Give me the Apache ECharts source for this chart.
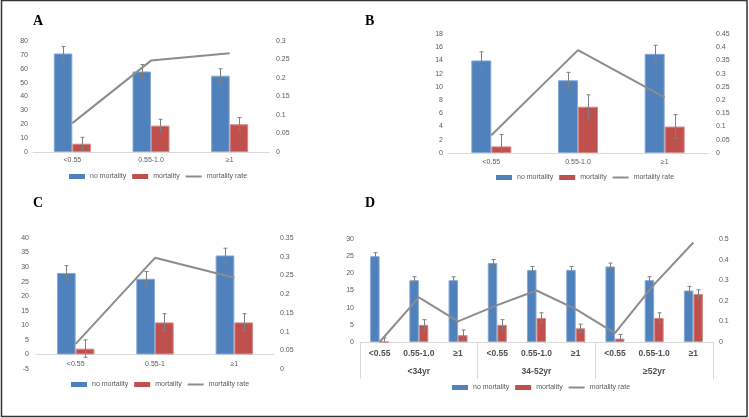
<!DOCTYPE html>
<html>
<head>
<meta charset="utf-8">
<script src="https://cdn.jsdelivr.net/npm/echarts@6/dist/echarts.min.js"></script>
<style>
  html, body { margin: 0; padding: 0; background: #fff; }
  #chart { width: 749px; height: 418px; }
</style>
</head>
<body>
<div id="chart"></div>
<script>
// panel A
const catsA = ['<0.55', '0.55-1.0', '≥1'];
const noMortA = [71, 58, 55];
const mortA = [6, 19, 20];
const noMortErrA = [5, 5, 5];
const mortErrA = [4.6, 4.6, 4.8];
const rateA = [0.078, 0.247, 0.267];

// panel B
const catsB = ['<0.55', '0.55-1.0', '≥1'];
const noMortB = [14, 11, 15];
const mortB = [1, 7, 4];
const noMortErrB = [1.3, 1.2, 1.3];
const mortErrB = [1.8, 1.8, 1.8];
const rateB = [0.067, 0.389, 0.21];

// panel C
const catsC = ['<0.55', '0.55-1', '≥1'];
const noMortC = [28, 26, 34];
const mortC = [2, 11, 11];
const noMortErrC = [2.5, 2.5, 2.5];
const mortErrC = [3, 3, 3];
const rateC = [0.067, 0.297, 0.244];

// panel D
const catsD = ['<0.55', '0.55-1.0', '≥1', '<0.55', '0.55-1.0', '≥1', '<0.55', '0.55-1.0', '≥1'];
const groupsD = ['<34yr', '34-52yr', '≥52yr'];
const noMortD = [25, 18, 18, 23, 21, 21, 22, 18, 15];
const mortD = [0, 5, 2, 5, 7, 4, 1, 7, 14];
const noMortErrD = [1, 1, 1, 1, 1, 1, 1, 1, 1.2];
const mortErrD = [1.2, 1.5, 1.5, 1.5, 1.5, 1.2, 1.2, 1.5, 1.2];
const rateD = [0, 0.217, 0.1, 0.179, 0.25, 0.16, 0.043, 0.28, 0.483];

const BLUE = '#4f81bd';
const RED = '#c0504d';
const GRAY = '#8c8c8c';
const TXT = '#595959';
const FONT = 'Liberation Sans';

const myChart = echarts.init(document.getElementById('chart'));

function errBars(side, bw) {
  return function (params, api) {
    const lo = api.coord([api.value(0), api.value(1)]);
    const hi = api.coord([api.value(0), api.value(2)]);
    const x = Math.round(lo[0] + side * bw / 2) + 0.5;
    const st = { stroke: '#7f7f7f', lineWidth: 1 };
    return {
      type: 'group',
      children: [
        { type: 'line', shape: { x1: x, y1: lo[1], x2: x, y2: hi[1] }, style: st },
        { type: 'line', shape: { x1: x - 2, y1: lo[1], x2: x + 2, y2: lo[1] }, style: st },
        { type: 'line', shape: { x1: x - 2, y1: hi[1], x2: x + 2, y2: hi[1] }, style: st },
      ],
    };
  };
}

function panel(k, noMort, mort, noErr, mErr, rate, bw) {
  return [
    {
      name: 'no mortality', type: 'bar', xAxisIndex: k, yAxisIndex: 2 * k,
      barWidth: bw, barGap: '0%', data: noMort,
      itemStyle: { color: BLUE, borderColor: '#86a8d6', borderWidth: 1 },
    },
    {
      name: 'mortality', type: 'bar', xAxisIndex: k, yAxisIndex: 2 * k,
      barWidth: bw, barGap: '0%', data: mort,
      itemStyle: { color: RED, borderColor: '#d68885', borderWidth: 1 },
    },
    {
      type: 'custom', xAxisIndex: k, yAxisIndex: 2 * k, z: 3, clip: true,
      renderItem: errBars(-1, bw),
      data: noMort.map((v, i) => [i, v - noErr[i], v + noErr[i]]),
    },
    {
      type: 'custom', xAxisIndex: k, yAxisIndex: 2 * k, z: 3, clip: true,
      renderItem: errBars(1, bw),
      data: mort.map((v, i) => [i, v - mErr[i], v + mErr[i]]),
    },
    {
      name: 'mortality rate', type: 'line', xAxisIndex: k, yAxisIndex: 2 * k + 1,
      symbol: 'none', z: 4, data: rate,
      lineStyle: { color: GRAY, width: 2 }, itemStyle: { color: GRAY },
    },
  ];
}

function valAxis(grid, pos, min, max, interval, margin) {
  return {
    type: 'value', gridIndex: grid, position: pos, min: min, max: max, interval: interval,
    splitLine: { show: false }, axisLine: { show: false }, axisTick: { show: false },
    axisLabel: { color: TXT, fontSize: 7, fontFamily: FONT, margin: margin },
  };
}

function catAxis(grid, data, margin) {
  return {
    type: 'category', gridIndex: grid, data: data, position: 'bottom',
    axisLine: { lineStyle: { color: '#d9d9d9' } },
    axisTick: { show: false },
    axisLabel: { color: TXT, fontSize: 7, fontFamily: FONT, margin: margin, interval: 0 },
  };
}

function legendAt(left, top, lineW) {
  return {
    left: left, top: top, padding: 0, itemWidth: 16, itemHeight: 5, itemGap: 6,
    itemStyle: { borderWidth: 0 },
    textStyle: { color: TXT, fontSize: 7, fontFamily: FONT },
    data: [
      { name: 'no mortality', icon: 'rect' },
      { name: 'mortality', icon: 'rect' },
      { name: 'mortality rate', icon: 'path://M0,0H' + lineW + 'V2H0Z' },
    ],
  };
}

function letter(t, left, top) {
  return {
    text: t, left: left, top: top, padding: 0,
    textStyle: { fontFamily: 'Liberation Serif', fontWeight: 'bold', fontSize: 14, color: '#000' },
  };
}

// C: category axis sits on the left axis' zero (one 5-step above the bottom)
const xC = catAxis(2, catsC, 6);
xC.axisLine.onZero = false;
xC.offset = -131 / 9;

const xD = catAxis(3, catsD, 7);
xD.axisLabel.fontSize = 8.5;
xD.axisLabel.fontWeight = 'bold';
xD.axisLabel.color = '#505050';

myChart.setOption({
  animation: false,
  title: [
    letter('A', 33, 14),
    letter('B', 365, 14),
    letter('C', 33, 196),
    letter('D', 365, 196),
  ],
  legend: [
    legendAt(69, 173, 16),
    legendAt(496, 174, 16),
    legendAt(71, 381, 16),
    legendAt(452, 384, 16),
  ],
  grid: [
    { left: 33, top: 41, width: 236, height: 111 },
    { left: 448, top: 34, width: 260, height: 119 },
    { left: 36, top: 238, width: 238, height: 131 },
    { left: 360, top: 239, width: 353, height: 103 },
  ],
  xAxis: [
    catAxis(0, catsA, 5),
    catAxis(1, catsB, 6),
    xC,
    xD,
    {
      type: 'category', gridIndex: 3, data: groupsD, position: 'bottom',
      axisLine: { show: false, onZero: false },
      axisTick: { show: true, length: 37, lineStyle: { color: '#d9d9d9' } },
      axisLabel: { color: '#505050', fontSize: 8.5, fontWeight: 'bold', fontFamily: FONT, margin: 25 },
    },
  ],
  yAxis: [
    valAxis(0, 'left', 0, 80, 10, 5),
    valAxis(0, 'right', 0, 0.3, 0.05, 7),
    valAxis(1, 'left', 0, 18, 2, 5),
    valAxis(1, 'right', 0, 0.45, 0.05, 8),
    valAxis(2, 'left', -5, 40, 5, 7),
    valAxis(2, 'right', 0, 0.35, 0.05, 6),
    valAxis(3, 'left', 0, 30, 5, 6),
    valAxis(3, 'right', 0, 0.5, 0.1, 6),
  ],
  graphic: [
    {
      type: 'rect', silent: true, z: 100,
      shape: { x: 1.5, y: 0.5, width: 745.5, height: 416 },
      style: { fill: 'none', stroke: '#333', lineWidth: 1.5 },
    },
  ],
  series: [
    ...panel(0, noMortA, mortA, noMortErrA, mortErrA, rateA, 18.5),
    ...panel(1, noMortB, mortB, noMortErrB, mortErrB, rateB, 20),
    ...panel(2, noMortC, mortC, noMortErrC, mortErrC, rateC, 18.7),
    ...panel(3, noMortD, mortD, noMortErrD, mortErrD, rateD, 9.5),
  ],
});
</script>
</body>
</html>
